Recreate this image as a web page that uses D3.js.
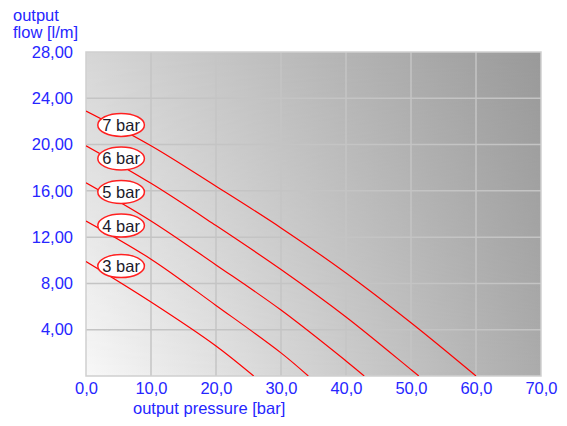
<!DOCTYPE html>
<html><head><meta charset="utf-8">
<script src="https://cdn.jsdelivr.net/npm/d3@7"></script>
<style>
html,body{margin:0;padding:0;background:#fff;}
svg{display:block;font-family:"Liberation Sans",Arial,sans-serif;}
</style></head><body>
<svg id="c" width="567" height="426"></svg>
<script>
// ---- data ----
const xTicks = [0,10,20,30,40,50,60,70];
const yTicks = [4,8,12,16,20,24,28];
const seriesNames = ["3 bar","4 bar","5 bar","6 bar","7 bar"];
const p3 = [0,10,20,25.8],            f3 = [9.9,6.4,2.6,0];
const p4 = [0,10,20,30,34.2],         f4 = [13.4,10.1,6.1,2.0,0];
const p5 = [0,10,20,30,40,42.8],      f5 = [16.7,13.4,9.6,5.7,1.3,0];
const p6 = [0,10,20,30,40,50,51.2],   f6 = [19.9,16.65,13.0,9.2,5.1,0.55,0];
const p7 = [0,10,20,30,40,50,60],     f7 = [22.9,19.9,16.4,12.8,8.9,4.6,0];
const labelP = [5.4,5.4,5.4,5.4,5.4];
const labelF = [9.5,13.0,15.9,18.8,21.7];

// ---- drawing ----
const svg = d3.select("#c");
const L=86, R=541, T=52, B=376;
const x = d3.scaleLinear().domain([0,70]).range([L,R]);
const y = d3.scaleLinear().domain([0,28]).range([B,T]);
const blue = "#2626ff";

const defs = svg.append("defs");
const gb = defs.append("linearGradient").attr("id","gb").attr("x1",0).attr("y1",0).attr("x2",1).attr("y2",0);
gb.append("stop").attr("offset",0).attr("stop-color","#f8f8f8");
gb.append("stop").attr("offset",1).attr("stop-color","#acacac");
const gt = defs.append("linearGradient").attr("id","gt").attr("x1",0).attr("y1",0).attr("x2",1).attr("y2",0);
gt.append("stop").attr("offset",0).attr("stop-color","#d6d6d6");
gt.append("stop").attr("offset",1).attr("stop-color","#999999");
const gm = defs.append("linearGradient").attr("id","gm").attr("x1",0).attr("y1",0).attr("x2",0).attr("y2",1);
gm.append("stop").attr("offset",0).attr("stop-color","#fff");
gm.append("stop").attr("offset",1).attr("stop-color","#000");
defs.append("mask").attr("id","mk").append("rect").attr("x",L).attr("y",T).attr("width",R-L).attr("height",B-T).attr("fill","url(#gm)");
defs.append("clipPath").attr("id","clip").append("rect").attr("x",L).attr("y",T).attr("width",R-L).attr("height",B-T);

svg.append("rect").attr("x",L).attr("y",T).attr("width",R-L).attr("height",B-T).attr("fill","url(#gb)");
svg.append("rect").attr("x",L).attr("y",T).attr("width",R-L).attr("height",B-T).attr("fill","url(#gt)").attr("mask","url(#mk)");

// grid
const grid = svg.append("g").attr("stroke","#c4c4c4").attr("stroke-width",1.5);
grid.selectAll("line.v").data(xTicks.slice(1,-1)).join("line")
  .attr("x1",d=>x(d)).attr("x2",d=>x(d)).attr("y1",T).attr("y2",B);
grid.selectAll("line.h").data(yTicks.slice(0,-1)).join("line")
  .attr("x1",L).attr("x2",R).attr("y1",d=>y(d)).attr("y2",d=>y(d));
svg.append("rect").attr("x",L).attr("y",T).attr("width",R-L).attr("height",B-T)
  .attr("fill","none").attr("stroke","#cfcfcf").attr("stroke-width",1.5);

// axes
const fmtX = d=>d3.format(".1f")(d).replace(".",",");
const fmtY = d=>d3.format(".2f")(d).replace(".",",");
const xAxis = d3.axisBottom(x).tickValues(xTicks).tickSize(0).tickPadding(6).tickFormat(fmtX);
const gx = svg.append("g").attr("transform",`translate(0,${B})`).call(xAxis);
gx.select(".domain").remove();
gx.selectAll("text").attr("fill",blue).style("font-size","16.5px").style("font-family","'Liberation Sans',Arial,sans-serif");
const yAxis = d3.axisLeft(y).tickValues(yTicks).tickSize(0).tickPadding(13).tickFormat(fmtY);
const gy = svg.append("g").attr("transform",`translate(${L},0)`).call(yAxis);
gy.select(".domain").remove();
gy.selectAll("text").attr("fill",blue).style("font-size","16.5px").style("font-family","'Liberation Sans',Arial,sans-serif");

svg.append("text").attr("x",13).attr("y",21).attr("fill",blue).style("font-size","16.5px").text("output");
svg.append("text").attr("x",13).attr("y",38).attr("fill",blue).style("font-size","16.5px").text("flow [l/m]");
svg.append("text").attr("x",133).attr("y",414).attr("fill",blue).style("font-size","16.5px").text("output pressure [bar]");

// curves
const allP=[p3,p4,p5,p6,p7], allF=[f3,f4,f5,f6,f7];
const line = d3.line().x(d=>x(d[0])).y(d=>y(d[1])).curve(d3.curveCatmullRom.alpha(0.5));
const cg = svg.append("g").attr("clip-path","url(#clip)");
allP.forEach((ps,i)=>{
  const pts = ps.map((p,j)=>[p,allF[i][j]]);
  cg.append("path").attr("d",line(pts)).attr("fill","none").attr("stroke","#ff0000").attr("stroke-width",1.2);
});

// labels
const lg = svg.append("g");
seriesNames.forEach((n,i)=>{
  const cx = x(labelP[i]), cy = y(labelF[i]);
  lg.append("ellipse").attr("cx",cx).attr("cy",cy).attr("rx",23.3).attr("ry",11.5)
    .attr("fill","#fff").attr("stroke","#ff2020").attr("stroke-width",1.5);
  lg.append("text").attr("x",cx).attr("y",cy+6).attr("text-anchor","middle")
    .attr("fill","#1a1a2a").style("font-size","16.5px").text(n);
});
</script></body></html>
